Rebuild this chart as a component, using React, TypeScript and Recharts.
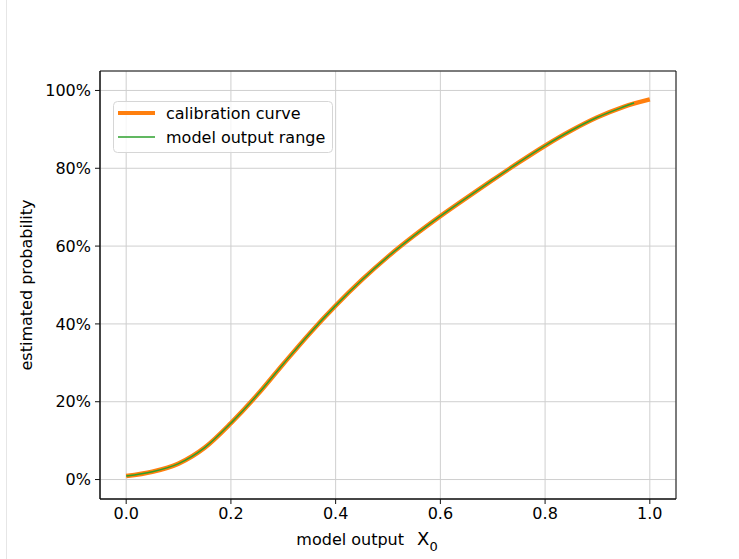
import { CartesianGrid, Label, Line, LineChart, ReferenceArea, XAxis, YAxis } from "recharts";

const xTicks = [0, 0.2, 0.4, 0.6, 0.8, 1.0];
const yTicks = [0, 0.2, 0.4, 0.6, 0.8, 1.0];

// calibration curve
const outputX = [0, 0.05, 0.1, 0.15, 0.2, 0.25, 0.3, 0.35, 0.4, 0.45, 0.5, 0.55, 0.6, 0.65, 0.7, 0.75, 0.8, 0.85, 0.9, 0.95, 1.0];
const calibrationY = [0.009, 0.02, 0.041, 0.082, 0.145, 0.217, 0.297, 0.375, 0.447, 0.513, 0.573, 0.627, 0.677, 0.724, 0.77, 0.815, 0.858, 0.897, 0.931, 0.958, 0.977];

// model output range (green) stops a little before 1.0
const rangeX = [0, 0.05, 0.1, 0.15, 0.2, 0.25, 0.3, 0.35, 0.4, 0.45, 0.5, 0.55, 0.6, 0.65, 0.7, 0.75, 0.8, 0.85, 0.9, 0.95, 0.97];
const rangeY = [0.009, 0.02, 0.041, 0.082, 0.145, 0.217, 0.297, 0.375, 0.447, 0.513, 0.573, 0.627, 0.677, 0.724, 0.77, 0.815, 0.858, 0.897, 0.931, 0.958, 0.968];

const calibration = outputX.map((x, i) => ({ x, y: calibrationY[i] }));
const modelRange = rangeX.map((x, i) => ({ x, y: rangeY[i] }));

const FONT = "DejaVu Sans";

function LegendBox() {
  return (
    <svg width={220} height={52} style={{ position: "absolute", left: 113, top: 101 }}>
      <rect x={0.5} y={0.5} width={219} height={51} rx={4} fill="rgba(255,255,255,0.8)" stroke="#d6d6d6" />
      <line x1={5} x2={42} y1={12} y2={12} stroke="#ff7f0e" strokeWidth={4} />
      <line x1={5} x2={42} y1={36} y2={36} stroke="#2ca02c" strokeWidth={1.5} />
      <text x={53} y={18} fontFamily={FONT} fontSize={16} fill="#000">calibration curve</text>
      <text x={53} y={42} fontFamily={FONT} fontSize={16} fill="#000">model output range</text>
    </svg>
  );
}

export default function App() {
  return (
    <div style={{ position: "absolute", left: 0, top: 0, width: 739, height: 559, background: "#fff" }}>
      <div style={{ position: "absolute", left: 6, top: 0, width: 1, height: 559, background: "#e6e6e6" }} />
      <LineChart
        width={739}
        height={559}
        margin={{ top: 71, right: 63, left: 0, bottom: 0 }}
        style={{ fontFamily: FONT }}
      >
        <CartesianGrid stroke="#cfcfcf" strokeWidth={1} />
        <XAxis
          dataKey="x"
          type="number"
          domain={[-0.05, 1.05]}
          ticks={xTicks}
          allowDataOverflow
          height={60}
          tickFormatter={(v: number) => v.toFixed(1)}
          tick={{ fill: "#000", fontSize: 16, fontFamily: FONT }}
          tickSize={5}
          tickMargin={4}
          axisLine={{ stroke: "#111" }}
          tickLine={{ stroke: "#111" }}
        >
          <Label
            content={({ viewBox }: any) => (
              <text x={viewBox.x + viewBox.width / 2 - 21} y={545} textAnchor="middle" fontFamily={FONT} fill="#000">
                <tspan fontSize={16}>model output</tspan>
                <tspan fontSize={18} dx={13}>X</tspan>
                <tspan fontSize={13} dy={6}>0</tspan>
              </text>
            )}
          />
        </XAxis>
        <YAxis
          type="number"
          domain={[-0.05, 1.05]}
          ticks={yTicks}
          allowDataOverflow
          width={100}
          tickFormatter={(v: number) => `${Math.round(v * 100)}%`}
          tick={{ fill: "#000", fontSize: 16, fontFamily: FONT }}
          tickSize={5}
          tickMargin={4}
          axisLine={{ stroke: "#111" }}
          tickLine={{ stroke: "#111" }}
        >
          <Label
            value="estimated probability"
            angle={-90}
            position="insideLeft"
            offset={26}
            style={{ textAnchor: "middle", fill: "#000", fontSize: 16, fontFamily: FONT }}
          />
        </YAxis>
        <ReferenceArea x1={-0.05} x2={1.05} y1={-0.05} y2={1.05} fill="none" stroke="#111" strokeWidth={1} />
        <Line
          data={calibration}
          dataKey="y"
          name="calibration curve"
          type="monotone"
          stroke="#ff7f0e"
          strokeWidth={4.5}
          dot={false}
          isAnimationActive={false}
        />
        <Line
          data={modelRange}
          dataKey="y"
          name="model output range"
          type="monotone"
          stroke="#2ca02c"
          strokeWidth={1.5}
          dot={false}
          isAnimationActive={false}
        />
      </LineChart>
      <LegendBox />
    </div>
  );
}
